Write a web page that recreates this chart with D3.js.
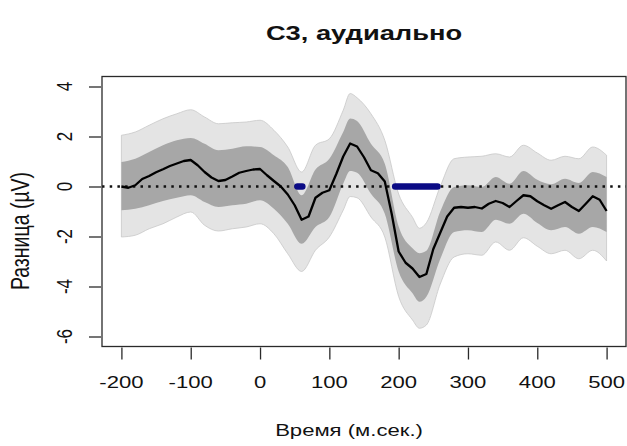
<!DOCTYPE html>
<html>
<head>
<meta charset="utf-8">
<script src="https://cdn.jsdelivr.net/npm/d3@7"></script>
<style>
  html, body { margin: 0; padding: 0; background: #fff; }
  svg { display: block; }
  text { font-family: "Liberation Sans", Arial, Helvetica, sans-serif; fill: #111; }
</style>
</head>
<body>
<div id="chart"></div>
<script>
// difference wave, C3, auditory. mean + two grey bands + blue "significant" bits

const meanTime = [
  -200, -190, -180, -170, -160, -150, -140, -130, -120, -110,
  -100, -90, -80, -70, -60, -50, -40, -30, -20, -10,
  0, 10, 20, 30, 40, 50, 60, 70, 80, 90,
  100, 110, 120, 130, 140, 150, 160, 170, 180, 190,
  200, 210, 220, 230, 240, 250, 260, 270, 280, 290,
  300, 310, 320, 330, 340, 350, 360, 370, 380, 390,
  400, 410, 420, 430, 440, 450, 460, 470, 480, 490,
  500
];
const meanDiff = [
  0.0, -0.05, 0.05, 0.3, 0.42, 0.57, 0.69, 0.82, 0.92, 1.02,
  1.06, 0.85, 0.58, 0.36, 0.22, 0.26, 0.4, 0.55, 0.62, 0.68,
  0.7, 0.45, 0.22, 0.0, -0.32, -0.75, -1.33, -1.2, -0.45, -0.25,
  -0.15, 0.5, 1.2, 1.72, 1.6, 1.17, 0.65, 0.53, 0.2, -1.1,
  -2.6, -3.05, -3.28, -3.62, -3.5, -2.5, -1.85, -1.2, -0.85, -0.82,
  -0.85, -0.82, -0.88, -0.69, -0.58, -0.66, -0.82, -0.58, -0.35, -0.39,
  -0.59, -0.75, -0.89, -0.75, -0.62, -0.82, -0.98, -0.69, -0.39, -0.53,
  -0.98
];

// band edges, read on a coarser grid
const bandTime = [-200, -180, -160, -140, -120, -100, -80, -60, -40, -20, 0, 20, 40, 60, 80, 100,
  120, 130, 140, 160, 180, 200, 220, 230, 240, 260, 280, 300, 320, 340, 360, 380, 400, 420, 440, 460, 480, 500];
const outerHi = [2.05, 2.18, 2.45, 2.71, 2.91, 3.07, 2.78, 2.51, 2.55, 2.58, 2.65, 2.25, 1.58, 0.58, 1.65, 1.91,
  3.05, 3.72, 3.55, 2.91, 1.85, -0.3, -1.23, -1.67, -1.45, 0.0, 1.11, 1.18, 1.21, 1.31, 1.18, 1.65, 1.34, 1.05, 1.21, 1.11, 1.58, 1.25];
const innerHi = [0.98, 1.11, 1.38, 1.65, 1.85, 1.94, 1.71, 1.45, 1.51, 1.61, 1.58, 1.25, 0.78, -0.35, 0.68, 1.11,
  2.18, 2.72, 2.62, 1.71, 0.91, -1.6, -2.47, -2.67, -2.57, -1.0, -0.02, 0.05, -0.02, 0.38, 0.11, 0.62, 0.27, 0.09, 0.31, 0.14, 0.58, 0.38];
const innerLo = [-0.95, -0.89, -0.75, -0.58, -0.45, -0.35, -0.62, -0.82, -0.75, -0.69, -0.55, -0.89, -1.49, -2.29, -1.62, -1.22,
  0.11, 0.62, 0.55, -0.29, -1.09, -3.4, -4.27, -4.61, -4.41, -2.9, -1.82, -1.75, -1.82, -1.33, -1.49, -1.09, -1.46, -1.75, -1.62, -1.89, -1.62, -1.82];
const outerLo = [-2.02, -1.95, -1.69, -1.49, -1.22, -1.02, -1.55, -1.78, -1.69, -1.62, -1.49, -1.89, -2.69, -3.40, -2.55, -2.02,
  -0.95, -0.40, -0.45, -1.22, -2.02, -4.4, -5.34, -5.67, -5.54, -3.9, -2.82, -2.69, -2.75, -2.22, -2.55, -2.05, -2.39, -2.69, -2.55, -2.89, -2.55, -2.98];

// significant stretches (ms)
const sigStart = [54, 195];
const sigEnd   = [61, 256];

const xTicks = [-200, -100, 0, 100, 200, 300, 400, 500];
const yTicks = [-6, -4, -2, 0, 2, 4];

const titleText = "C3, аудиально";
const xLabel = "Время (м.сек.)";
const yLabel = "Разница (µV)";

const W = 627, H = 446;
const box = { left: 102, right: 626, top: 76.5, bottom: 346.5 };
const SX = 1.3; // the source picture is stretched sideways, text too

const svg = d3.select("#chart").append("svg")
  .attr("width", W)
  .attr("height", H);

// R style 4% padding around xlim / ylim
const x = d3.scaleLinear().domain([-228, 528]).range([box.left, box.right]);
const y = d3.scaleLinear().domain([-6.4, 4.4]).range([box.bottom, box.top]);

const bands = bandTime.map((t, i) => ({
  t, oh: outerHi[i], ih: innerHi[i], il: innerLo[i], ol: outerLo[i]
}));
const means = meanTime.map((t, i) => ({ t, v: meanDiff[i] }));

const areaOuter = d3.area()
  .x(d => x(d.t)).y0(d => y(d.ol)).y1(d => y(d.oh))
  .curve(d3.curveMonotoneX);
const areaInner = d3.area()
  .x(d => x(d.t)).y0(d => y(d.il)).y1(d => y(d.ih))
  .curve(d3.curveMonotoneX);

svg.append("path")
  .datum(bands)
  .attr("d", areaOuter)
  .attr("fill", "#e4e4e4")
  .attr("stroke", "#c8c8c8")
  .attr("stroke-width", 0.8);

svg.append("path")
  .datum(bands)
  .attr("d", areaInner)
  .attr("fill", "#a7a7a7");

// zero line, dotted
svg.append("line")
  .attr("x1", box.left).attr("x2", box.right)
  .attr("y1", y(0)).attr("y2", y(0))
  .attr("stroke", "#111")
  .attr("stroke-width", 2.4)
  .attr("stroke-dasharray", "2.5 5.2");

// significance bars
svg.selectAll("line.sig")
  .data(sigStart.map((s, i) => ({ s, e: sigEnd[i] })))
  .join("line")
  .attr("class", "sig")
  .attr("x1", d => x(d.s)).attr("x2", d => x(d.e))
  .attr("y1", y(0)).attr("y2", y(0))
  .attr("stroke", "#0b0b85")
  .attr("stroke-width", 6.5)
  .attr("stroke-linecap", "round");

// mean difference
svg.append("path")
  .datum(means)
  .attr("d", d3.line().x(d => x(d.t)).y(d => y(d.v)))
  .attr("fill", "none")
  .attr("stroke", "#000")
  .attr("stroke-width", 2.3)
  .attr("stroke-linejoin", "round");

// box
svg.append("rect")
  .attr("x", box.left).attr("y", box.top)
  .attr("width", box.right - box.left)
  .attr("height", box.bottom - box.top)
  .attr("fill", "none")
  .attr("stroke", "#2a2a2a")
  .attr("stroke-width", 1.3);

// ticks via d3 axes, labels done by hand (rotated / stretched)
const gx = svg.append("g")
  .attr("transform", `translate(0,${box.bottom + 1})`)
  .call(d3.axisBottom(x).tickValues(xTicks).tickSize(12).tickFormat(""));
const gy = svg.append("g")
  .attr("transform", `translate(${box.left - 1},0)`)
  .call(d3.axisLeft(y).tickValues(yTicks).tickSize(12).tickFormat(""));
[gx, gy].forEach(g => {
  g.select(".domain").remove();
  g.selectAll(".tick line").attr("stroke", "#2a2a2a").attr("stroke-width", 1.3);
});

const fs = 17;

svg.selectAll("text.xt")
  .data(xTicks)
  .join("text")
  .attr("class", "xt")
  .attr("transform", d => `translate(${x(d)},388) scale(${SX},1)`)
  .attr("text-anchor", "middle")
  .attr("font-size", fs)
  .text(d => d);

svg.selectAll("text.yt")
  .data(yTicks)
  .join("text")
  .attr("class", "yt")
  .attr("transform", d => `translate(72,${y(d)}) scale(${SX},1) rotate(-90)`)
  .attr("text-anchor", "middle")
  .attr("font-size", fs)
  .text(d => d);

svg.append("text")
  .attr("transform", `translate(349,436) scale(${SX},1)`)
  .attr("text-anchor", "middle")
  .attr("font-size", fs)
  .text(xLabel);

svg.append("text")
  .attr("transform", `translate(29,231) scale(${SX},1) rotate(-90)`)
  .attr("text-anchor", "middle")
  .attr("font-size", 19.5)
  .text(yLabel);

svg.append("text")
  .attr("transform", `translate(${(box.left + box.right) / 2},40) scale(${SX},1)`)
  .attr("text-anchor", "middle")
  .attr("font-size", 21)
  .attr("font-weight", 700)
  .text(titleText);
</script>
</body>
</html>
